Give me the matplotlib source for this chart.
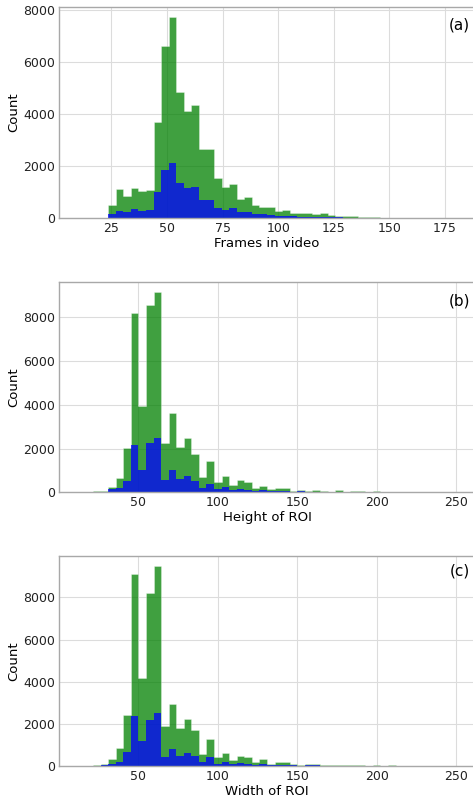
import numpy as np
import matplotlib
matplotlib.use("Agg")
import matplotlib.pyplot as plt

# bin ranges (50 bins each)
frames_range = (10, 180)
roi_range = (12, 250)
n_bins = 50

# (a) frames in video: all clips (green) and subset (blue)
frames_all = [5, 0, 0, 30, 500, 1128, 846, 1154, 1051, 1090, 3718, 6603, 7744, 4859, 4115, 4372,
              2654, 2654, 1551, 1192, 1333, 744, 833, 500, 436, 423, 295, 308, 218, 192, 192, 167,
              192, 115, 103, 77, 77, 64, 38, 38, 25, 20, 15, 15, 10, 20, 10, 15, 5, 10]
frames_sub = [2, 0, 0, 10, 154, 282, 244, 359, 282, 320, 1000, 1859, 2115, 1346, 1154, 1205,
              718, 718, 397, 333, 385, 244, 244, 167, 154, 128, 103, 90, 77, 64, 64, 51,
              51, 38, 38, 26, 26, 20, 13, 13, 10, 8, 6, 6, 4, 8, 4, 6, 2, 4]

# (b) height of ROI
height_all = [3, 5, 45, 60, 229, 670, 2027, 8186, 3933, 8582, 9170, 2241, 3613, 2058, 2500, 1768,
              686, 1433, 457, 747, 335, 564, 457, 183, 305, 137, 183, 183, 76, 122, 61, 91,
              76, 30, 91, 30, 61, 61, 15, 45, 20, 30, 15, 25, 20, 15, 25, 10, 20, 15]
height_sub = [1, 2, 15, 30, 137, 183, 518, 2180, 1021, 2256, 2470, 579, 1021, 625, 747, 518,
              198, 396, 137, 244, 122, 168, 122, 76, 107, 61, 61, 61, 30, 45, 25, 35,
              30, 12, 35, 12, 25, 25, 6, 18, 8, 12, 6, 10, 8, 6, 10, 4, 8, 6]

# (c) width of ROI
width_all = [3, 5, 47, 79, 348, 838, 2419, 9107, 4190, 8206, 9500, 1881, 2925, 1787, 2245, 1723,
             585, 1281, 427, 617, 285, 458, 411, 206, 332, 95, 206, 190, 79, 47, 79, 95,
             32, 47, 32, 47, 47, 47, 20, 30, 15, 25, 15, 20, 15, 20, 10, 15, 10, 10]
width_sub = [1, 2, 16, 32, 95, 174, 664, 2356, 1186, 2182, 2514, 443, 806, 490, 601, 474,
             174, 427, 111, 206, 95, 142, 95, 63, 95, 40, 60, 55, 30, 20, 30, 35,
             12, 18, 12, 18, 18, 18, 8, 12, 6, 10, 6, 8, 6, 8, 4, 6, 4, 4]

panels = [
    ("Frames in video", "(a)", frames_range, frames_all, frames_sub, [25, 50, 75, 100, 125, 150, 175]),
    ("Height of ROI", "(b)", roi_range, height_all, height_sub, [50, 100, 150, 200, 250]),
    ("Width of ROI", "(c)", roi_range, width_all, width_sub, [50, 100, 150, 200, 250]),
]

W, H = 473, 797
fig = plt.figure(figsize=(W / 100, H / 100), dpi=100)

# axes boxes in pixels: (top, bottom); right edge runs past the figure like the reference crop
boxes = [(6.7, 218.3), (281.7, 492.3), (555.7, 766.0)]
letter_y = [0.947, 0.946, 0.962]
left_px, right_px = 59, 475

for (xlabel, letter, rng, all_counts, sub_counts, xticks), (top, bot), ly in zip(panels, boxes, letter_y):
    ax = fig.add_axes([left_px / W, 1 - bot / H, (right_px - left_px) / W, (bot - top) / H])
    edges = np.linspace(rng[0], rng[1], n_bins + 1)
    centers = edges[:-1]
    # green = all (pale outline on the contour only); blue = subset drawn over it
    ax.hist(centers, bins=edges, weights=all_counts, histtype="stepfilled",
            facecolor=(0, 0.5, 0, 0.75), edgecolor=(1, 1, 1, 0.35), linewidth=0.6)
    ax.hist(centers, bins=edges, weights=sub_counts, histtype="stepfilled",
            facecolor=(0, 0, 1, 0.75), linewidth=0)

    ax.set_xticks(xticks)
    ax.set_yticks([0, 2000, 4000, 6000, 8000])
    ax.set_axisbelow(True)
    ax.grid(True, color="#dcdcdc", linewidth=0.8)
    ax.tick_params(length=0, labelsize=9, pad=3, colors="#222222")
    for s in ax.spines.values():
        s.set_color("#a8a8a8")
        s.set_linewidth(1.0)
    ax.set_xlabel(xlabel, fontsize=9.5, labelpad=1)
    ax.set_ylabel("Count", fontsize=9.5, labelpad=2)
    ax.text(0.988, ly, letter, transform=ax.transAxes, ha="right", va="top", fontsize=11)

fig.savefig("out.png", dpi=100)
